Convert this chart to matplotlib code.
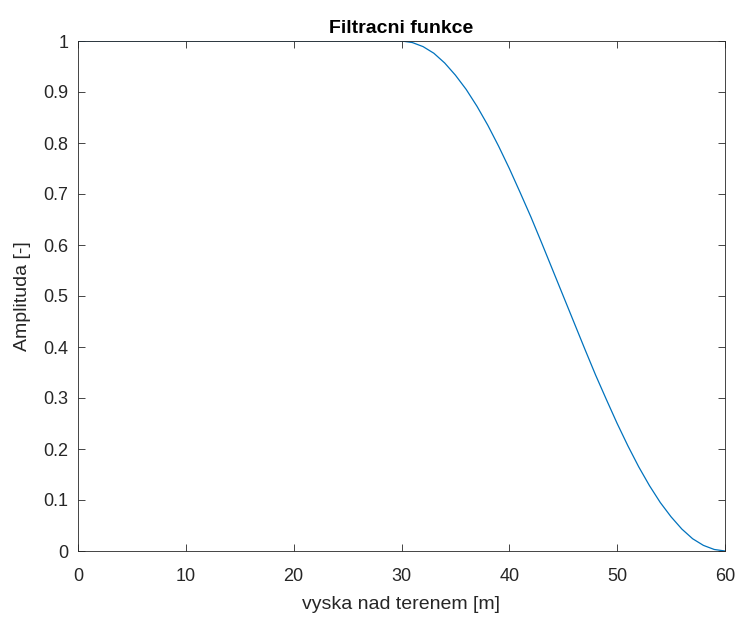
import matplotlib
matplotlib.use("Agg")
import matplotlib.pyplot as plt

# height above terrain [m] and filter amplitude
height = [0, 30, 31, 32, 33, 34, 35, 36, 37, 38, 39, 40, 41, 42, 43, 44, 45,
          46, 47, 48, 49, 50, 51, 52, 53, 54, 55, 56, 57, 58, 59, 60]
amplitude = [1.0, 1.0, 0.997, 0.989, 0.976, 0.957, 0.933, 0.905, 0.872, 0.835,
             0.794, 0.750, 0.703, 0.655, 0.604, 0.552, 0.500, 0.448, 0.396,
             0.345, 0.297, 0.250, 0.206, 0.165, 0.128, 0.095, 0.067, 0.043,
             0.024, 0.011, 0.003, 0.0]

xticks = list(range(0, 61, 10))
yticks = [0, 0.1, 0.2, 0.3, 0.4, 0.5, 0.6, 0.7, 0.8, 0.9, 1]
ytick_labels = ["0", "0.1", "0.2", "0.3", "0.4", "0.5", "0.6", "0.7", "0.8", "0.9", "1"]

plt.rcParams['font.family'] = ['Liberation Sans', 'DejaVu Sans']

fig = plt.figure(figsize=(7.4, 6.19), dpi=100)
ax = fig.add_axes([78 / 740, 1 - 551 / 619, (725 - 78) / 740, (551 - 41) / 619])

ax.plot(height, amplitude, color='#0072BD', linewidth=0.9)

ax.set_xlim(0, 60)
ax.set_ylim(0, 1)
ax.set_xticks(xticks)
ax.set_yticks(yticks)
ax.set_yticklabels(ytick_labels)
ax.tick_params(direction='in', top=True, right=True, labelsize=13, length=5,
               width=0.6, colors='#262626')
ax.tick_params(axis='x', pad=12)
ax.tick_params(axis='y', pad=7)
for s in ax.spines.values():
    s.set_linewidth(0.6)
    s.set_color('#262626')

ax.set_xlabel('vyska nad terenem [m]', fontsize=14, color='#262626', labelpad=8)
ax.set_ylabel('Amplituda [-]', fontsize=14, color='#262626', labelpad=9)
ax.set_title('Filtracni funkce', fontsize=14, fontweight='bold', color='black', pad=6)

fig.savefig('out.png', dpi=100)
